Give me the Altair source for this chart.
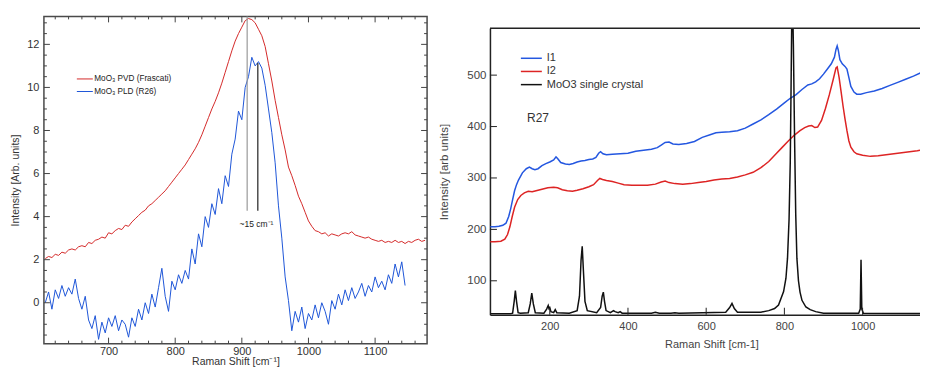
import altair as alt
import pandas as pd

# ---------------- Left panel data ----------------
pvd_x = list(range(605, 1180, 5))
pvd_y = [2.05, 2.15, 2.10, 2.25, 2.20, 2.35, 2.30, 2.45, 2.50, 2.45,
         2.60, 2.65, 2.60, 2.80, 2.75, 2.90, 2.95, 3.05, 3.00, 3.25,
         3.20, 3.35, 3.45, 3.40, 3.60, 3.55, 3.75, 3.90, 4.05, 4.20,
         4.30, 4.50, 4.60, 4.75, 4.90, 5.05, 5.20, 5.40, 5.60, 5.80,
         6.00, 6.20, 6.40, 6.65, 6.90, 7.15, 7.45, 7.80, 8.20, 8.60,
         9.00, 9.35, 9.75, 10.20, 10.70, 11.20, 11.70, 12.15, 12.50, 12.80,
         13.10, 13.20, 13.15, 13.00, 12.70, 12.40, 11.90, 11.10, 10.30, 9.40,
         8.60, 7.80, 7.10, 6.30, 5.90, 5.45, 4.95, 4.60, 4.20, 3.80,
         3.55, 3.35, 3.30, 3.20, 3.25, 3.10, 3.20, 3.15, 3.10, 3.20,
         3.25, 3.20, 3.30, 3.15, 3.10, 3.05, 3.00, 3.05, 2.95, 2.90,
         2.85, 2.90, 2.80, 2.85, 2.80, 2.90, 2.80, 2.85, 2.75, 2.85,
         2.80, 2.90, 2.95, 2.85, 2.90]

pld_x = list(range(605, 1150, 5))
pld_y = [0.0, 0.5, -0.3, 0.6, 0.2, 0.8, 0.3, 0.7, 0.4, 1.1,
         0.2, -0.3, 0.3, -0.8, -1.2, -0.6, -1.7, -0.9, -1.4, -0.7,
         -1.1, -0.6, -1.3, -0.8, -1.0, -1.6, -0.7, -1.1, -0.3, -0.8,
         0.0, -0.5, 0.4, -0.2, 0.7, 1.6, 0.3, -0.4, 1.0, 0.6,
         1.3, 0.9, 1.5, 1.1, 2.5, 1.8, 3.2, 2.6, 4.0, 3.5,
         4.6, 4.1, 5.3, 4.6, 5.9, 5.4, 6.9, 7.6, 8.9, 8.5,
         10.0, 10.5, 11.4, 11.0, 11.2, 10.9, 10.1, 9.0, 7.9, 6.5,
         4.5, 3.0, 1.2, 0.1, -1.3, -0.4, -0.9, -0.2, -1.2, -0.5,
         -0.8, -0.1, -0.7, 0.0, -0.4, -1.0, 0.1, -0.3, 0.4, -0.1,
         0.6, 0.1, 0.7, 0.2, 0.5, 0.9, 0.3, 0.8, 0.5, 1.2,
         0.7, 1.0, 0.6, 1.3, 0.9, 1.8, 1.2, 1.9, 0.8]

left_series = ["MoO₃ PVD (Frascati)", "MoO₃ PLD (R26)"]
left_colors = ["#d42a2a", "#1f56d8"]

left_xticks_major = [700, 800, 900, 1000, 1100]
left_xticks_minor = [v for v in range(620, 1180, 20) if v % 100 != 0]
left_yticks_major = [0, 2, 4, 6, 8, 10, 12]
left_yticks_minor = [v / 2 for v in range(-3, 27) if v % 4 != 0]

marker_x = [908, 924]
marker_top = [13.3, 11.13]
marker_bottom = [4.27, 4.27]
marker_colors = ["#9a9a9a", "#222222"]
marker_label = ["~15 cm⁻¹"]
marker_label_x = [922]
marker_label_y = [3.68]

# ---------------- Right panel data ----------------
i1_x = [48, 60, 70, 80, 88, 95, 100, 105, 110, 115, 120, 130, 140, 148, 155, 162, 170, 180, 190, 200,
        210, 216, 220, 228, 240, 250, 260, 270, 280, 290, 300, 310, 318, 325, 330, 336, 345, 360, 380, 400,
        420, 440, 460, 475, 485, 495, 505, 515, 530, 550, 570, 590, 610, 625, 640, 660, 680, 700, 720, 740,
        760, 780, 800, 815, 830, 845, 860, 870, 880, 890, 900, 910, 920, 928, 932, 935, 938, 942, 948, 955,
        960, 965, 970, 978, 985, 995, 1010, 1030, 1050, 1070, 1090, 1110, 1130, 1150, 1170, 1180]
i1_y = [205, 205, 206, 208, 212, 225, 240, 258, 275, 287, 296, 310, 318, 321, 318, 316, 318, 324, 328, 331,
        335, 341, 338, 330, 327, 326, 328, 331, 333, 334, 336, 337, 340, 348, 351, 347, 345, 346, 347, 348,
        352, 354, 356, 359, 364, 369, 370, 366, 365, 367, 371, 379, 384, 388, 389, 390, 392, 397, 405, 413,
        423, 434, 446, 455, 462, 472, 481, 483, 487, 493, 502, 512, 522, 535, 550, 557, 548, 530, 522, 517,
        512, 495, 478, 467, 463, 463, 466, 469, 474, 480, 486, 492, 498, 505, 510, 513]

i2_x = [48, 60, 75, 85, 92, 98, 104, 110, 118, 126, 135, 145, 155, 165, 180, 195, 210, 220, 232, 245,
        258, 270, 285, 300, 312, 322, 328, 335, 345, 360, 375, 390, 410, 430, 450, 470, 485, 495, 505, 520,
        540, 560, 580, 600, 620, 640, 660, 680, 700, 720, 740, 760, 780, 795, 810, 825, 840, 852, 862, 870,
        878, 885, 895, 905, 915, 925, 932, 935, 940, 945, 950, 955, 960, 965, 970, 978, 985, 1000, 1020, 1040,
        1060, 1080, 1100, 1120, 1140, 1160, 1180]
i2_y = [176, 176, 177, 181, 190, 205, 225, 243, 258, 266, 271, 274, 273, 275, 278, 281, 282, 281, 277, 275,
        274, 276, 279, 283, 287, 295, 299, 297, 295, 293, 290, 287, 286, 286, 286, 288, 292, 294, 291, 289,
        288, 289, 291, 293, 296, 298, 299, 302, 306, 311, 320, 332, 348, 360, 372, 383, 392, 398, 401, 402,
        398, 399, 412, 435, 462, 492, 514, 516, 495, 468, 440, 415, 392, 372, 360, 351, 347, 344, 342, 343,
        345, 347, 349, 351, 353, 356, 359]

sc_x = [48, 100, 105, 109, 112, 115, 119, 125, 145, 150, 154, 158, 163, 185, 192, 196, 198, 200, 203, 210,
        214, 218, 250, 270, 276, 280, 283, 286, 290, 296, 320, 330, 334, 337, 340, 344, 355, 363, 367, 375,
        380, 385, 460, 470, 480, 510, 520, 530, 650, 660, 666, 672, 680, 740, 760, 775, 785, 798, 804, 808,
        812, 815, 817, 819, 821, 823, 826, 829, 832, 836, 840, 845, 855, 866, 880, 900, 990, 994, 996, 998,
        1002, 1180]
sc_y = [36, 36, 37, 60, 81, 60, 38, 37, 38, 55, 76, 55, 38, 37, 45, 52, 46, 48, 40, 38,
        44, 38, 37, 42, 70, 140, 167, 120, 60, 42, 38, 48, 70, 78, 60, 42, 38, 42, 40, 38,
        40, 37, 37, 39, 37, 37, 38, 37, 39, 48, 56, 46, 39, 39, 42, 46, 53, 79, 105, 144,
        220, 330, 470, 620, 640, 560, 380, 230, 144, 100, 78, 62, 49, 44, 40, 37, 37, 45, 141, 45,
        37, 36]

right_series = ["I1", "I2", "MoO3 single crystal"]
right_colors = ["#2457e0", "#dd2424", "#111111"]
right_xticks = [200, 400, 600, 800, 1000]
right_yticks = [100, 200, 300, 400, 500]
sample_label = ["R27"]
sample_label_x = [170]
sample_label_y = [417]

FONT = "Liberation Sans"


def tick_layers(values, channel, scale, axis, start, length, color):
    d = pd.DataFrame({"v": values})
    if channel == "x":
        enc = dict(x=alt.X("v:Q", scale=scale, axis=axis), y=alt.value(start), y2=alt.value(start + length))
    else:
        enc = dict(y=alt.Y("v:Q", scale=scale, axis=axis), x=alt.value(start), x2=alt.value(start + length))
    return alt.Chart(d).mark_rule(color=color, strokeWidth=1).encode(**enc)


def legend_layers(labels, colors, x0, x1, y0, dy, gap, fontsize, width, textcolor):
    out = []
    for i, (lab, col) in enumerate(zip(labels, colors)):
        d = pd.DataFrame({"t": [lab]})
        out.append(alt.Chart(d).mark_rule(color=col, strokeWidth=width).encode(
            x=alt.value(x0), x2=alt.value(x1), y=alt.value(y0 + i * dy)))
        out.append(alt.Chart(d).mark_text(align="left", baseline="middle", fontSize=fontsize,
                                          color=textcolor, font=FONT).encode(
            x=alt.value(x1 + gap), y=alt.value(y0 + i * dy), text="t:N"))
    return out


# ---------------- Left panel ----------------
WL, HL = 384, 328
XL = alt.Scale(domain=[603, 1178], nice=False, zero=False)
YL = alt.Scale(domain=[-1.9, 13.3], nice=False, zero=False)
AXL_X = alt.Axis(values=left_xticks_major, format="d", title="Raman Shift [cm⁻¹]", ticks=False,
                 domain=False, grid=False, labelPadding=2, titlePadding=0, labelFontSize=11,
                 titleFontSize=10.5, labelColor="#333", titleColor="#333", titleFontWeight="normal")
AXL_Y = alt.Axis(values=left_yticks_major, format="d", title="Intensity [Arb. units]", ticks=False,
                 domain=False, grid=False, labelPadding=5, titlePadding=6, labelFontSize=11,
                 titleFontSize=10.5, labelColor="#333", titleColor="#333", titleFontWeight="normal")

left_df = pd.concat([
    pd.DataFrame({"x": pvd_x, "y": pvd_y, "s": left_series[0], "c": left_colors[0]}),
    pd.DataFrame({"x": pld_x, "y": pld_y, "s": left_series[1], "c": left_colors[1]}),
])

left_lines = alt.Chart(left_df).mark_line(strokeWidth=1, clip=True).encode(
    x=alt.X("x:Q", scale=XL, axis=AXL_X),
    y=alt.Y("y:Q", scale=YL, axis=AXL_Y),
    color=alt.Color("c:N", scale=None),
    detail="s:N",
    order=alt.Order("x:Q"),
)

marker_layers = []
for mx, mb, mt, mc in zip(marker_x, marker_bottom, marker_top, marker_colors):
    marker_layers.append(alt.Chart(pd.DataFrame({"x": [mx], "y0": [mb], "y1": [mt]})).mark_rule(
        strokeWidth=1.2, color=mc).encode(
        x=alt.X("x:Q", scale=XL, axis=AXL_X), y=alt.Y("y0:Q", scale=YL, axis=AXL_Y), y2="y1:Q"))

marker_text = alt.Chart(pd.DataFrame({"x": marker_label_x, "y": marker_label_y, "t": marker_label})).mark_text(
    fontSize=8.5, color="#222", font=FONT, align="center", baseline="middle").encode(
    x=alt.X("x:Q", scale=XL, axis=AXL_X), y=alt.Y("y:Q", scale=YL, axis=AXL_Y), text="t:N")

left_layers = [left_lines] + marker_layers + [marker_text]
left_layers += [tick_layers(left_xticks_major, "x", XL, AXL_X, HL - 6, 6, "#444"),
                tick_layers(left_xticks_major, "x", XL, AXL_X, 0, 6, "#444"),
                tick_layers(left_xticks_minor, "x", XL, AXL_X, HL - 3, 3, "#444"),
                tick_layers(left_xticks_minor, "x", XL, AXL_X, 0, 3, "#444"),
                tick_layers(left_yticks_major, "y", YL, AXL_Y, 0, 6, "#444"),
                tick_layers(left_yticks_major, "y", YL, AXL_Y, WL - 6, 6, "#444"),
                tick_layers(left_yticks_minor, "y", YL, AXL_Y, 0, 3, "#444"),
                tick_layers(left_yticks_minor, "y", YL, AXL_Y, WL - 3, 3, "#444")]
left_layers += legend_layers(left_series, left_colors, 33, 49, 62.7, 12.6, 1.5, 8.2, 1, "#222")

left = alt.layer(*left_layers).properties(
    width=WL, height=HL, view=alt.ViewBackground(stroke="#4a4a4a", strokeWidth=1.5))

# ---------------- Right panel ----------------
WR, HR = 444, 287
XR = alt.Scale(domain=[47, 1180], nice=False, zero=False)
YR = alt.Scale(domain=[34, 591], nice=False, zero=False)
AXR_X = alt.Axis(values=right_xticks, format="d", title="Raman Shift [cm-1]", ticks=False, domain=True,
                 domainColor="#222", domainWidth=1.5, grid=False, labelPadding=6, titlePadding=7,
                 labelFontSize=11, titleFontSize=11, labelColor="#444", titleColor="#444",
                 titleFontWeight="normal")
AXR_Y = alt.Axis(values=right_yticks, format="d", title="Intensity [arb units]", ticks=False, domain=True,
                 domainColor="#222", domainWidth=1.5, grid=False, labelPadding=4, titlePadding=17,
                 labelFontSize=11.5, titleFontSize=11.5, labelColor="#444", titleColor="#444",
                 titleFontWeight="normal")

right_df = pd.concat([
    pd.DataFrame({"x": i1_x, "y": i1_y, "s": right_series[0], "c": right_colors[0]}),
    pd.DataFrame({"x": i2_x, "y": i2_y, "s": right_series[1], "c": right_colors[1]}),
    pd.DataFrame({"x": sc_x, "y": sc_y, "s": right_series[2], "c": right_colors[2]}),
])

right_lines = alt.Chart(right_df).mark_line(strokeWidth=1.5, clip=True).encode(
    x=alt.X("x:Q", scale=XR, axis=AXR_X),
    y=alt.Y("y:Q", scale=YR, axis=AXR_Y),
    color=alt.Color("c:N", scale=None),
    detail="s:N",
    order=alt.Order("x:Q"),
)

sample_text = alt.Chart(pd.DataFrame({"x": sample_label_x, "y": sample_label_y, "t": sample_label})).mark_text(
    fontSize=12, color="#333", font=FONT, align="center", baseline="middle").encode(
    x=alt.X("x:Q", scale=XR, axis=AXR_X), y=alt.Y("y:Q", scale=YR, axis=AXR_Y), text="t:N")

top_frame = alt.Chart(pd.DataFrame({"t": ["frame"]})).mark_rule(color="#222", strokeWidth=1.5).encode(
    x=alt.value(0), x2=alt.value(WR), y=alt.value(0))

right_layers = [right_lines, sample_text, top_frame,
                tick_layers(right_xticks, "x", XR, AXR_X, HR - 7, 7, "#222"),
                tick_layers(right_yticks, "y", YR, AXR_Y, 0, 7, "#222")]
right_layers += legend_layers(right_series, right_colors, 31, 52, 30, 13.2, 5, 11, 1.5, "#333")

right_panel = alt.layer(*right_layers).properties(
    width=WR, height=HR, view=alt.ViewBackground(stroke="transparent"))

spacer = alt.Chart(pd.DataFrame({"v": [0]})).mark_point(size=0, opacity=0).encode(
    x=alt.value(0), y=alt.value(0)).properties(
    width=10, height=1, view=alt.ViewBackground(stroke="transparent"))

right = alt.vconcat(spacer, right_panel, spacing=8)

chart = alt.hconcat(left, right, spacing=9).properties(
    padding={"left": 2, "top": 6, "right": -15, "bottom": 0}
).configure(font=FONT)

chart.save("out.html", embed_options={"renderer": "svg", "actions": False})
